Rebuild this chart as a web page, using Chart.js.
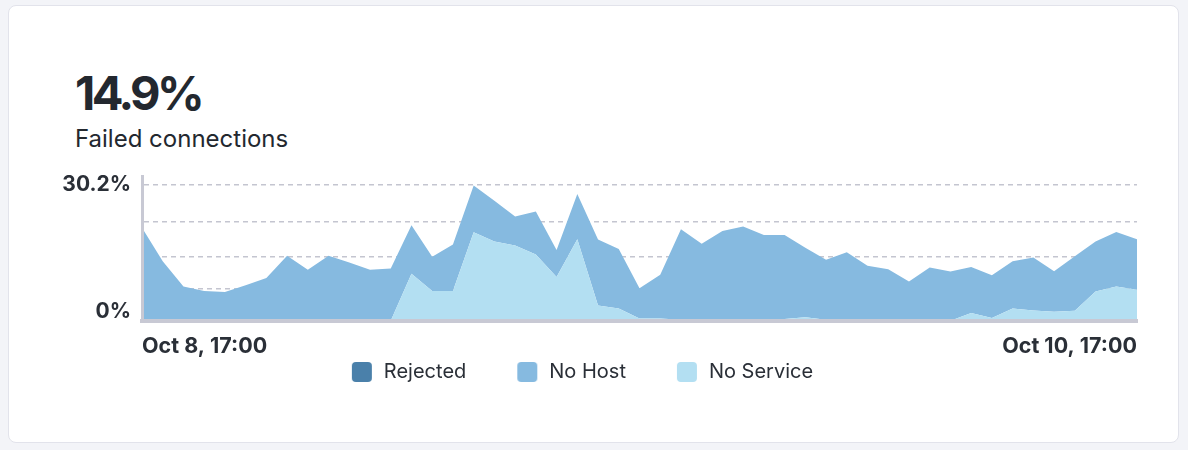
<!DOCTYPE html>
<html>
<head>
<meta charset="utf-8">
<script src="https://cdn.jsdelivr.net/npm/chart.js@4/dist/chart.umd.min.js"></script>
<style>
  html, body { margin: 0; padding: 0; background: #f3f4f8; }
  body { width: 1188px; height: 450px; position: relative; overflow: hidden; font-family: Inter, sans-serif; }
  .card { position: absolute; left: 8px; top: 5px; width: 1169px; height: 436px; background: #fff;
          border: 1px solid #e2e3eb; border-radius: 8px; }
  .big { position: absolute; left: 75px; top: 69px; font-size: 47px; line-height: 47px; font-weight: 700; color: #23282f;
         letter-spacing: -3.5px; }
  .sub { position: absolute; left: 75px; top: 127px; font-size: 24px; line-height: 24px; color: #23282f; }
  .chart-box { position: absolute; left: 0; top: 160px; width: 1188px; height: 232px; }
</style>
</head>
<body>
<div class="card"></div>
<div class="big">14.9%</div>
<div class="sub">Failed connections</div>
<div class="chart-box"><canvas id="chart-area"></canvas></div>
<script>
// hourly samples, Oct 8 17:00 -> Oct 10 17:00
var categories = [];
for (var i = 0; i < 49; i++) {
  var h = 17 + i;
  categories.push('Oct ' + (8 + Math.floor(h / 24)) + ', ' + String(h % 24).padStart(2, '0') + ':00');
}

var noService = [
  0.4, 0.1, 0.2, 0.1, 0.1, 0.0, 0.1, 0.1, 0.2, 0.1, 0.0, 0.1, 0.1,
  10.5, 6.7, 6.7, 19.7, 17.7, 16.8, 14.8, 9.8, 18.2, 3.5, 2.8, 0.6, 0.6,
  0.3, 0.2, 0.3, 0.2, 0.1, 0.5, 0.9, 0.3, 0.3, 0.1, 0.2, 0.2, 0.1, 0.1,
  1.8, 0.7, 2.8, 2.4, 2.1, 2.3, 6.6, 7.7, 7.0
];
var noHost = [
  20.3, 13.2, 7.5, 6.6, 6.4, 8.0, 9.5, 14.4, 11.2, 14.4, 13.0, 11.3, 11.6,
  10.8, 7.6, 10.3, 10.4, 9.0, 6.4, 9.5, 6.0, 10.0, 14.6, 13.2, 6.7, 9.7,
  20.1, 17.0, 19.7, 20.8, 19.0, 18.6, 15.4, 13.3, 15.0, 12.2, 11.3, 8.6, 11.8, 10.9,
  10.2, 9.5, 10.5, 11.7, 9.0, 12.1, 11.1, 12.1, 11.2
];
var rejected = [
  0, 0, 0, 0, 0, 0, 0, 0, 0, 0, 0, 0, 0,
  0, 0, 0, 0, 0, 0, 0, 0, 0, 0, 0, 0, 0,
  0, 0, 0, 0, 0, 0, 0, 0, 0, 0, 0, 0, 0, 0,
  0, 0, 0, 0, 0, 0, 0, 0, 0
];

var yTicks = [0, 7.2, 14.4, 22.1, 30.2];
var yMax = 32.2;
var yLabels = ['0%', '30.2%'];

var colors = {
  rejected: '#4a80aa',
  noHost: '#86bae0',
  noService: '#b3dff2',
  axis: '#c8c9d4',
  grid: '#c4c5d0',
  text: '#2a2f37'
};

// legend swatch: rounded square, with blank room on its left
function swatch(color) {
  var c = document.createElement('canvas');
  c.width = 68; c.height = 20;
  var g = c.getContext('2d');
  g.fillStyle = color;
  g.beginPath();
  g.roundRect(46, 0, 20, 20, 4);
  g.fill();
  return c;
}

var yEdgeLabels = {
  id: 'yEdgeLabels',
  afterDraw: function(chart) {
    var ctx = chart.ctx;
    var y = chart.scales.y;
    var x = chart.chartArea.left - 11;
    ctx.save();
    ctx.font = 'bold 21px Inter';
    ctx.fillStyle = colors.text;
    ctx.textAlign = 'right';
    ctx.textBaseline = 'middle';
    ctx.fillText(yLabels[1], x, y.getPixelForValue(yTicks[yTicks.length - 1]));
    ctx.textBaseline = 'alphabetic';
    ctx.fillText(yLabels[0], x, y.getPixelForValue(0) - 3);
    ctx.restore();
  }
};

// legend is centred on the padded width, so pull its left edge in
var padLeft = -18;

var config = {
  type: 'line',
  data: {
    labels: categories,
    datasets: [{
      label: 'No Service',
      data: noService,
      backgroundColor: colors.noService,
      pointStyle: swatch(colors.noService),
      fill: 'origin'
    }, {
      label: 'No Host',
      data: noHost,
      backgroundColor: colors.noHost,
      pointStyle: swatch(colors.noHost),
      fill: '-1'
    }, {
      label: 'Rejected',
      data: rejected,
      backgroundColor: colors.rejected,
      pointStyle: swatch(colors.rejected),
      fill: '-1'
    }]
  },
  options: {
    responsive: true,
    maintainAspectRatio: false,
    animation: false,
    elements: {
      line: { borderWidth: 0, tension: 0 },
      point: { radius: 0 }
    },
    layout: { padding: { left: padLeft, right: 51, top: 16, bottom: 0 } },
    scales: {
      x: {
        grid: { display: false, drawTicks: false },
        border: { color: colors.axis, width: 4, z: 1 },
        afterFit: function(scale) { scale.height -= 14; },
        ticks: {
          autoSkip: false,
          maxRotation: 0,
          align: 'inner',
          padding: 12,
          color: colors.text,
          font: { family: 'Inter', size: 21.5, weight: 'bold' },
          callback: function(v, i) {
            return (i === 0 || i === categories.length - 1) ? categories[i] : '';
          }
        }
      },
      y: {
        stacked: true,
        min: 0,
        max: yMax,
        afterBuildTicks: function(scale) {
          scale.ticks = yTicks.map(function(v) { return { value: v }; });
        },
        afterFit: function(scale) { scale.width = 142 - padLeft; },
        grid: {
          drawTicks: false,
          color: function(c) { return c.tick && c.tick.value === 0 ? 'rgba(0,0,0,0)' : colors.grid; },
          lineWidth: 1.5
        },
        border: { color: colors.axis, width: 3, dash: [5, 4], z: 1 },
        ticks: { display: false }
      }
    },
    plugins: {
      tooltip: { enabled: false },
      legend: {
        position: 'bottom',
        reverse: true,
        labels: {
          usePointStyle: true,
          pointStyleWidth: 68,
          boxHeight: 20,
          padding: 5,
          color: colors.text,
          font: { family: 'Inter', size: 20, lineHeight: 1 }
        }
      }
    }
  },
  plugins: [yEdgeLabels]
};

window.onload = function() {
  var ctx = document.getElementById('chart-area').getContext('2d');
  window.myChart = new Chart(ctx, config);
};
</script>
</body>
</html>
